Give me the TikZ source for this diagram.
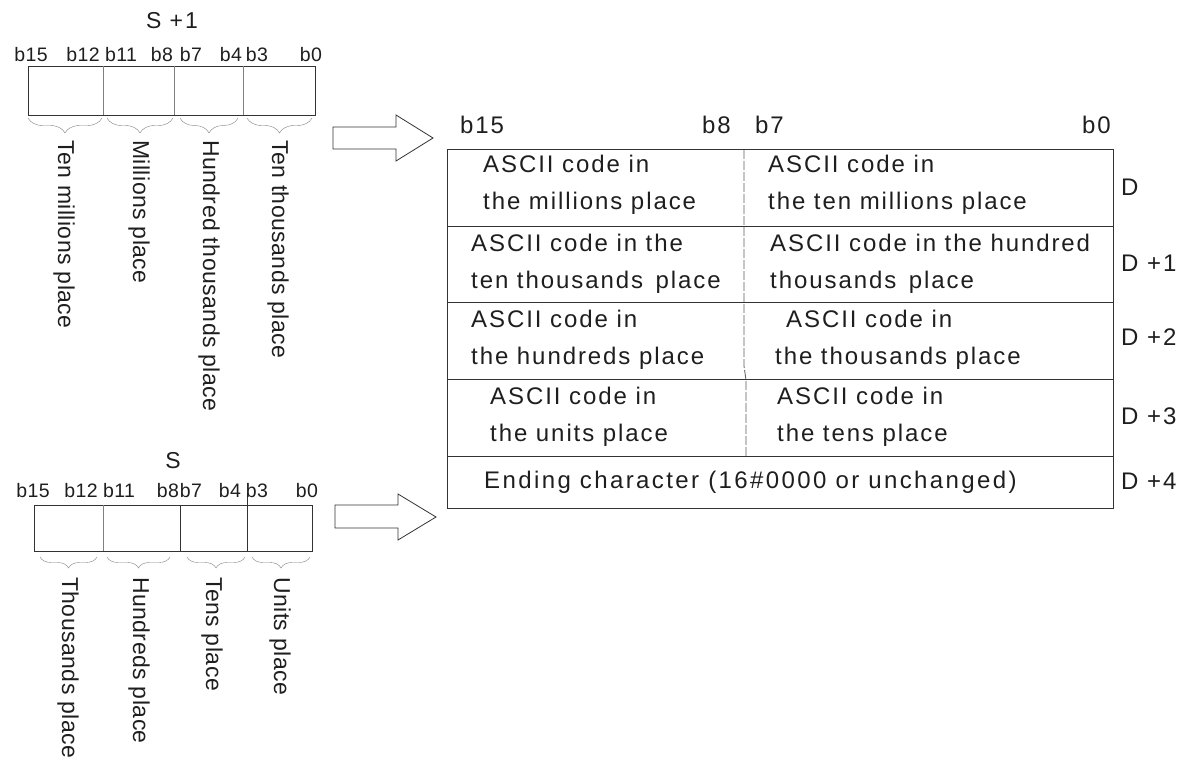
\documentclass[tikz,border=0pt]{standalone}
\usepackage{fontspec}
\setmainfont{Liberation Sans}
\newfontfamily\cellfont[LetterSpace=8]{Liberation Sans}
\newfontfamily\endfont[LetterSpace=10]{Liberation Sans}
\newfontfamily\bitfont[LetterSpace=2]{Liberation Sans}
\newfontfamily\placefont[LetterSpace=2]{Liberation Sans}
\usetikzlibrary{decorations.pathreplacing}
\definecolor{ink}{HTML}{1E1E1E}
\definecolor{rule}{HTML}{333333}
\definecolor{split}{HTML}{5A5A5A}

\begin{document}
\begin{tikzpicture}[x=1pt, y=-1pt,
    cell/.style={anchor=west, inner sep=0pt, text height=17pt, text depth=5pt,
        font=\fontsize{24}{24}\cellfont, text=ink},
    bit/.style={inner sep=0pt, text height=14pt, text depth=0pt,
        font=\fontsize{19.5}{19.5}\bitfont, text=ink},
    regname/.style={inner sep=0pt, font=\fontsize{23}{23}\cellfont, text=ink},
    place/.style={anchor=west, rotate=-90, inner sep=0pt,
        font=\fontsize{23}{23}\placefont, text=ink},
    curly/.style={draw=gray, decorate, decoration={brace, mirror, amplitude=#1}},
    bigarrow/.style={draw=rule, line width=0.8pt, line join=miter}]
    \useasboundingbox (0,0) rectangle (1192,765);

    % S +1 register
    \node[regname] (hiname) at (172,21) {S +1};
    \draw[rule, line width=0.9pt] (28,66) rectangle (315,115);
    \foreach \x in {103,174,243} \draw[gray] (\x,66) -- (\x,115);
    \foreach \t/\x [count=\i] in {b15/31,b12/83,b11/121,b8/162,b7/191,b4/231,b3/257,b0/311}
        \node[bit] (hibit\i) at (\x,55) {\t};
    \foreach \a/\b in {28/102,107/173,180/238,247/312}
        \draw[curly=15] (\a,118) -- (\b,118);
    \node[place] (tenmil) at (64,140) {Ten millions place};
    \node[place] (mil) at (139,140) {Millions place};
    \node[place] (hunthou) at (209,140) {Hundred thousands place};
    \node[place] (tenthou) at (278,140) {Ten thousands place};

    % S register
    \node[regname] (loname) at (173,461) {S};
    \draw[rule, line width=0.9pt] (34,505) rectangle (312,551);
    \foreach \x/\c/\t in {103/gray/505,180/rule/505,247/rule/493} \draw[\c] (\x,\t) -- (\x,551);
    \foreach \t/\x [count=\i] in {b15/33,b12/81,b11/119,b8/168,b7/191,b4/230,b3/257,b0/307}
        \node[bit] (lobit\i) at (\x,490) {\t};
    \foreach \a/\b in {40/97,107/170,187/245,252/310}
        \draw[curly=11] (\a,557) -- (\b,557);
    \node[place] (thou) at (68,577) {Thousands place};
    \node[place] (hund) at (139,577) {Hundreds place};
    \node[place] (tens) at (212,577) {Tens place};
    \node[place] (units) at (280,577) {Units place};

    % block arrows
    \draw[bigarrow] (333,127) -- (396,127) -- (396,115) -- (433,138)
        -- (396,161) -- (396,149) -- (333,149) -- cycle;
    \draw[bigarrow] (335,505) -- (398,505) -- (398,494) -- (436,517)
        -- (398,540) -- (398,528) -- (335,528) -- cycle;

    % result table D ... D +4
    \draw[rule, line width=1pt] (447,150) rectangle (1113,508);
    \foreach \y in {226,302,379,456} \draw[rule, line width=1pt] (447,\y) -- (1113,\y);
    \draw[split, line width=0.8pt, dash pattern=on 9pt off 2pt]
        (744,150) -- (744,366) -- (746,380) -- (746,456);
    \node[cell] (h15) at (460,128) {b15};
    \node[cell] (h8) at (702,128) {b8};
    \node[cell] (h7) at (755,128) {b7};
    \node[cell] (h0) at (1082,128) {b0};

    \node[cell] (r1la) at (483,166) {ASCII code in};
    \node[cell] (r1lb) at (483,204) {the millions place};
    \node[cell] (r1ra) at (768,166) {ASCII code in};
    \node[cell] (r1rb) at (768,204) {the ten millions place};
    \node[cell] (r2la) at (471,245) {ASCII code in the};
    \node[cell] (r2lb) at (471,282) {ten thousands\, place};
    \node[cell] (r2ra) at (770,245) {ASCII code in the hundred};
    \node[cell] (r2rb) at (770,282) {thousands\, place};
    \node[cell] (r3la) at (471,321) {ASCII code in};
    \node[cell] (r3lb) at (471,358) {the hundreds place};
    \node[cell] (r3ra) at (786,321) {ASCII code in};
    \node[cell] (r3rb) at (775,358) {the thousands place};
    \node[cell] (r4la) at (490,398) {ASCII code in};
    \node[cell] (r4lb) at (490,435) {the units place};
    \node[cell] (r4ra) at (777,398) {ASCII code in};
    \node[cell] (r4rb) at (777,435) {the tens place};
    \node[cell, font=\fontsize{24}{24}\endfont] (r5) at (484,482)
        {Ending character (16\#0000 or unchanged)};

    \foreach \t/\y [count=\i] in {D/190,D +1/265,D +2/339,D +3/418,D +4/483}
        \node[cell] (dword\i) at (1121,\y) {\t};
\end{tikzpicture}
\end{document}
